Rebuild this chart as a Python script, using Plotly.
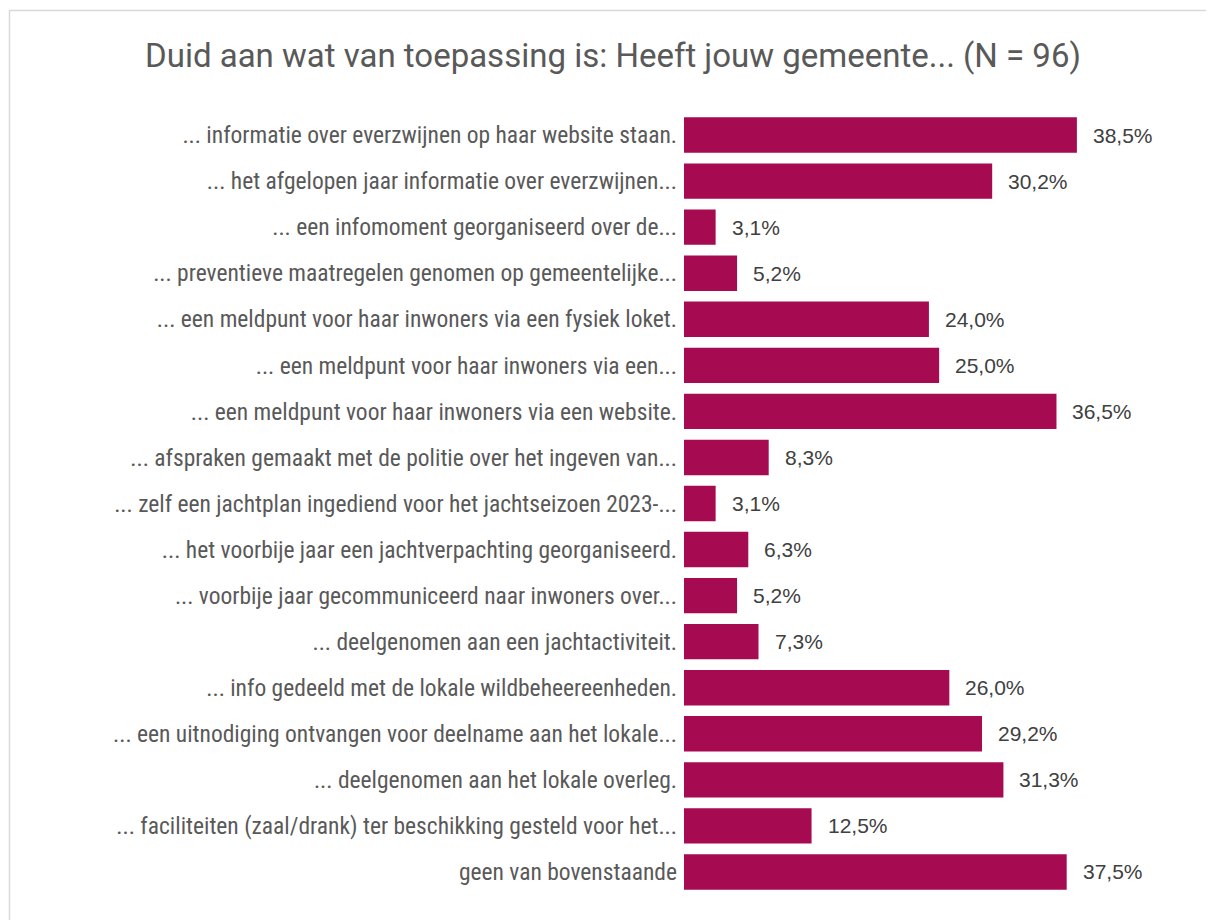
import plotly.graph_objects as go

categories = [
    "... informatie over everzwijnen op haar website staan.",
    "... het afgelopen jaar informatie over everzwijnen...",
    "... een infomoment georganiseerd over de...",
    "... preventieve maatregelen genomen op gemeentelijke...",
    "... een meldpunt voor haar inwoners via een fysiek loket.",
    "... een meldpunt voor haar inwoners via een...",
    "... een meldpunt voor haar inwoners via een website.",
    "... afspraken gemaakt met de politie over het ingeven van...",
    "... zelf een jachtplan ingediend voor het jachtseizoen 2023-...",
    "... het voorbije jaar een jachtverpachting georganiseerd.",
    "... voorbije jaar gecommuniceerd naar inwoners over...",
    "... deelgenomen aan een jachtactiviteit.",
    "... info gedeeld met de lokale wildbeheereenheden.",
    "... een uitnodiging ontvangen voor deelname aan het lokale...",
    "... deelgenomen aan het lokale overleg.",
    "... faciliteiten (zaal/drank) ter beschikking gesteld voor het...",
    "geen van bovenstaande",
]
values = [38.5, 30.2, 3.1, 5.2, 24.0, 25.0, 36.5, 8.3, 3.1, 6.3, 5.2, 7.3, 26.0, 29.2, 31.3, 12.5, 37.5]
title_text = "Duid aan wat van toepassing is: Heeft jouw gemeente... (N = 96)"

# page is drawn with an 8px body margin, so the figure is sized/offset to compensate
OFF = 8
W, H = 1214 - OFF, 920 - OFF
ML, MR, MT, MB = 684 - OFF, 14, 112 - OFF, 24.5
plot_w = W - ML - MR
plot_h = H - MT - MB
x_max = plot_w / 10.205

fig = go.Figure()
fig.add_trace(go.Bar(
    x=values, y=categories, orientation="h",
    marker=dict(color="#A60A50", line=dict(width=0)),
    hoverinfo="skip",
))

for c, v in zip(categories, values):
    fig.add_annotation(
        x=v, y=c, xref="x", yref="y",
        text=f"{v:.1f}".replace(".", ",") + "%",
        showarrow=False, xanchor="left", yanchor="middle", xshift=14,
        font=dict(family="Liberation Sans, Arial, sans-serif", size=21, color="#404040"),
    )

def px_to_paper_x(px):
    return (px - OFF - ML) / plot_w

def px_to_paper_y(py):
    return (H - MB - (py - OFF)) / plot_h

fig.add_shape(
    type="rect", xref="paper", yref="paper",
    x0=px_to_paper_x(9.5), x1=px_to_paper_x(1212.5),
    y0=px_to_paper_y(960), y1=px_to_paper_y(10.5),
    line=dict(color="#D9D9D9", width=1.5), fillcolor="rgba(0,0,0,0)",
    layer="below",
)

fig.update_layout(
    width=W, height=H,
    margin=dict(l=ML, r=MR, t=MT, b=MB, autoexpand=False),
    paper_bgcolor="white", plot_bgcolor="white",
    bargap=0.232,
    showlegend=False,
    title=dict(
        text=title_text, x=(613 - OFF) / W, xref="container", xanchor="center",
        y=1 - (55 - OFF) / H, yref="container", yanchor="middle",
        font=dict(family="Roboto, Inter, sans-serif", size=33, color="#595959"),
    ),
    xaxis=dict(range=[0, x_max], visible=False, fixedrange=True),
    yaxis=dict(
        autorange="reversed", showgrid=False, zeroline=False, showline=False,
        ticks="", ticklabelstandoff=6,
        tickfont=dict(family="Liberation Sans Narrow, Roboto Condensed, Arial Narrow, sans-serif", size=23.5, color="#595959"),
    ),
)

fig.write_html("out.html")
